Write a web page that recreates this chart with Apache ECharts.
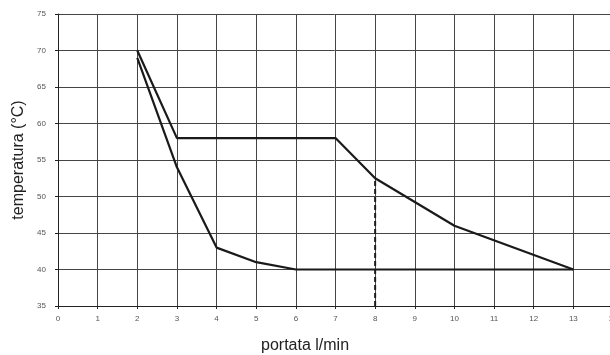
<!DOCTYPE html>
<html>
<head>
<meta charset="utf-8">
<script src="https://cdn.jsdelivr.net/npm/echarts@6/dist/echarts.min.js"></script>
<style>
  html, body { margin: 0; padding: 0; background: #fff; }
  #chart { width: 610px; height: 355px; }
</style>
</head>
<body>
<div id="chart"></div>
<script>
  // curva superiore e curva inferiore (portata l/min -> temperatura °C)
  const flowUpper = [2, 3, 7, 8, 10, 13];
  const tempUpper = [70, 58, 58, 52.5, 46, 40];
  const flowLower = [2, 3, 4, 5, 6, 13];
  const tempLower = [69, 54, 43, 41, 40, 40];
  // linea tratteggiata di riferimento a 8 l/min
  const refFlow = [8, 8];
  const refTemp = [35, 52.5];

  const xName = 'portata l/min';
  const yName = 'temperatura (°C)';

  const pairs = (xs, ys) => xs.map((x, i) => [x, ys[i]]);

  const chart = echarts.init(document.getElementById('chart'));
  chart.setOption({
    animation: false,
    backgroundColor: '#fff',
    textStyle: { fontFamily: 'Liberation Sans, Arial, sans-serif' },
    // il grafico originale è tagliato a destra: x=14 cade fuori dal riquadro
    grid: { left: 58, top: 14, width: 555, height: 292, outerBoundsMode: 'none', containLabel: false },
    xAxis: {
      type: 'value',
      min: 0, max: 14, interval: 1,
      axisLine: { show: true, lineStyle: { color: '#222', width: 1 } },
      axisTick: { show: true, length: 3, lineStyle: { color: '#222' } },
      axisLabel: { color: '#555', fontSize: 8, margin: 9 },
      splitLine: { show: true, lineStyle: { color: '#444', width: 1 } }
    },
    yAxis: {
      type: 'value',
      min: 35, max: 75, interval: 5,
      name: yName,
      nameLocation: 'middle',
      nameGap: 29,
      nameTextStyle: { fontSize: 16, color: '#222' },
      axisLine: { show: true, lineStyle: { color: '#222', width: 1 } },
      axisTick: { show: true, length: 3, lineStyle: { color: '#222' } },
      axisLabel: { color: '#555', fontSize: 8, margin: 12 },
      splitLine: { show: true, lineStyle: { color: '#444', width: 1 } }
    },
    graphic: [{
      type: 'text',
      left: 261, top: 338,
      style: { text: xName, fontSize: 16, fill: '#222', fontFamily: 'Liberation Sans, Arial, sans-serif' }
    }],
    series: [
      {
        name: 'superiore', type: 'line', data: pairs(flowUpper, tempUpper),
        showSymbol: false, lineStyle: { color: '#1a1a1a', width: 2.2 }
      },
      {
        name: 'inferiore', type: 'line', data: pairs(flowLower, tempLower),
        showSymbol: false, lineStyle: { color: '#1a1a1a', width: 2.2 }
      },
      {
        name: 'riferimento', type: 'line', data: pairs(refFlow, refTemp),
        showSymbol: false, lineStyle: { color: '#1a1a1a', width: 2, type: [5, 3] }
      }
    ]
  });
</script>
</body>
</html>
